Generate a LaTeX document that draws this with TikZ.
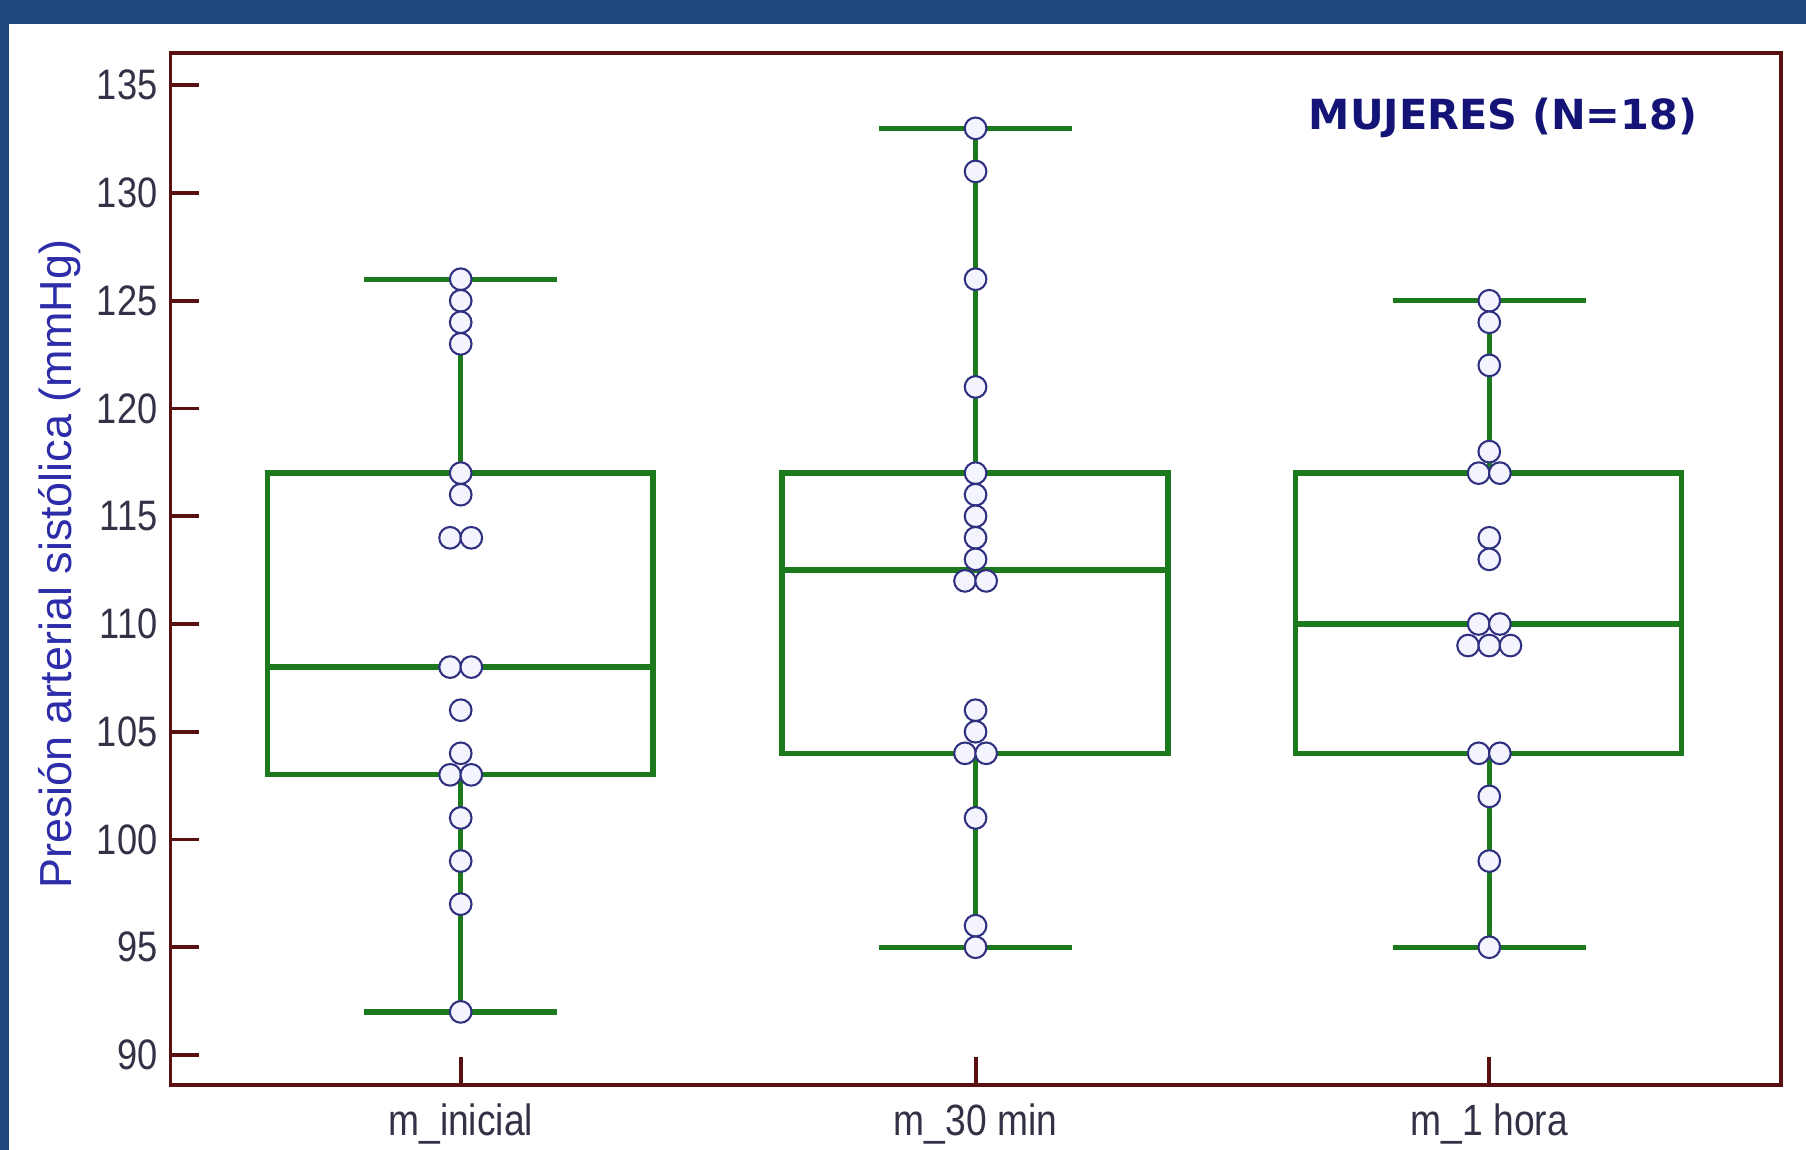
\documentclass[tikz,border=0pt]{standalone}
\usepackage{fontspec}
\setmainfont{Liberation Sans}
\newfontfamily\axfont[FakeStretch=0.85]{Liberation Sans}
\newfontfamily\ylabfont{Liberation Sans}
\newfontfamily\titlefont{DejaVu Sans}
\definecolor{bandblue}{RGB}{31,73,125}
\definecolor{framered}{RGB}{90,16,16}
\definecolor{boxgreen}{RGB}{28,122,28}
\definecolor{ptnavy}{RGB}{48,48,128}
\definecolor{ptfill}{RGB}{244,244,255}
\definecolor{ticktext}{RGB}{50,50,70}
\definecolor{ylabblue}{RGB}{45,45,170}
\definecolor{titlenavy}{RGB}{20,20,120}
\begin{document}
\begin{tikzpicture}[x=0.5pt,y=-0.5pt,
  declare function={yv(\v)=74+(135-\v)*18.71;},
  framestyle/.style={draw=framered,line width=1.7pt},
  greenline/.style={draw=boxgreen,line width=2.3pt},
  pt/.style={circle,draw=ptnavy,fill=ptfill,line width=0.9pt,minimum size=9.4pt,inner sep=0pt},
  ticklab/.style={anchor=east,font=\axfont\fontsize{18.5}{20}\selectfont,text=ticktext,inner sep=0pt},
  xlab/.style={anchor=north,font=\axfont\fontsize{19}{20}\selectfont,text=ticktext,inner sep=0pt}]
\useasboundingbox (0,0) rectangle (1568,998);
\fill[white] (0,0) rectangle (1568,998);
\fill[bandblue] (0,0) rectangle (1568,21);
\fill[bandblue] (0,0) rectangle (8,998);
% frame
\draw[framestyle] (148,46) rectangle (1546,942);
% y ticks
\foreach \v in {90,95,...,135}{
  \draw[framestyle] (148,{yv(\v)}) -- (173,{yv(\v)});
  \node[ticklab] (yt\v) at (137,{yv(\v)}) {\v};
}
% x ticks and labels
\foreach \xx/\lab/\nm in {400/m\_inicial/a,847/m\_30 min/b,1293/m\_1 hora/c}{
  \draw[framestyle] (\xx,942) -- (\xx,918);
  \node[xlab] (xl\nm) at (\xx,958) {\lab};
}
% y label
\node[rotate=90,font=\ylabfont\fontsize{19.5}{21}\selectfont,text=ylabblue,inner sep=0pt] (ylab) at (52,490) {Presión arterial sistólica (mmHg)};
% title
\node[font=\titlefont\bfseries\fontsize{18}{20}\selectfont,text=titlenavy,inner sep=0pt] (title) at (1305,102) {MUJERES (N=18)};
% boxes: center/q1/median/q3/low/high
\foreach \cx/\qa/\md/\qc/\lo/\hi in {400/103/108/117/92/126, 847/104/112.5/117/95/133, 1293/104/110/117/95/125}{
  \draw[greenline] (\cx,{yv(\qc)}) -- (\cx,{yv(\hi)});
  \draw[greenline] (\cx,{yv(\qa)}) -- (\cx,{yv(\lo)});
  \draw[greenline] (\cx-84,{yv(\hi)}) -- (\cx+84,{yv(\hi)});
  \draw[greenline] (\cx-84,{yv(\lo)}) -- (\cx+84,{yv(\lo)});
  \draw[greenline] (\cx-168,{yv(\qa)}) rectangle (\cx+167,{yv(\qc)});
  \draw[greenline] (\cx-168,{yv(\md)}) -- (\cx+167,{yv(\md)});
}
% points
\foreach \v/\o [count=\i] in {126/0,125/0,124/0,123/0,117/0,116/0,114/-1,114/1,108/-1,108/1,106/0,104/0,103/-1,103/1,101/0,99/0,97/0,92/0}{
  \node[pt] (pa\i) at (400+9.2*\o,{yv(\v)}) {};
}
\foreach \v/\o [count=\i] in {133/0,131/0,126/0,121/0,117/0,116/0,115/0,114/0,113/0,112/-1,112/1,106/0,105/0,104/-1,104/1,101/0,96/0,95/0}{
  \node[pt] (pb\i) at (847+9.2*\o,{yv(\v)}) {};
}
\foreach \v/\o [count=\i] in {125/0,124/0,122/0,118/0,117/-1,117/1,114/0,113/0,110/-1,110/1,109/-2,109/0,109/2,104/-1,104/1,102/0,99/0,95/0}{
  \node[pt] (pc\i) at (1293+9.2*\o,{yv(\v)}) {};
}
\end{tikzpicture}
\end{document}
